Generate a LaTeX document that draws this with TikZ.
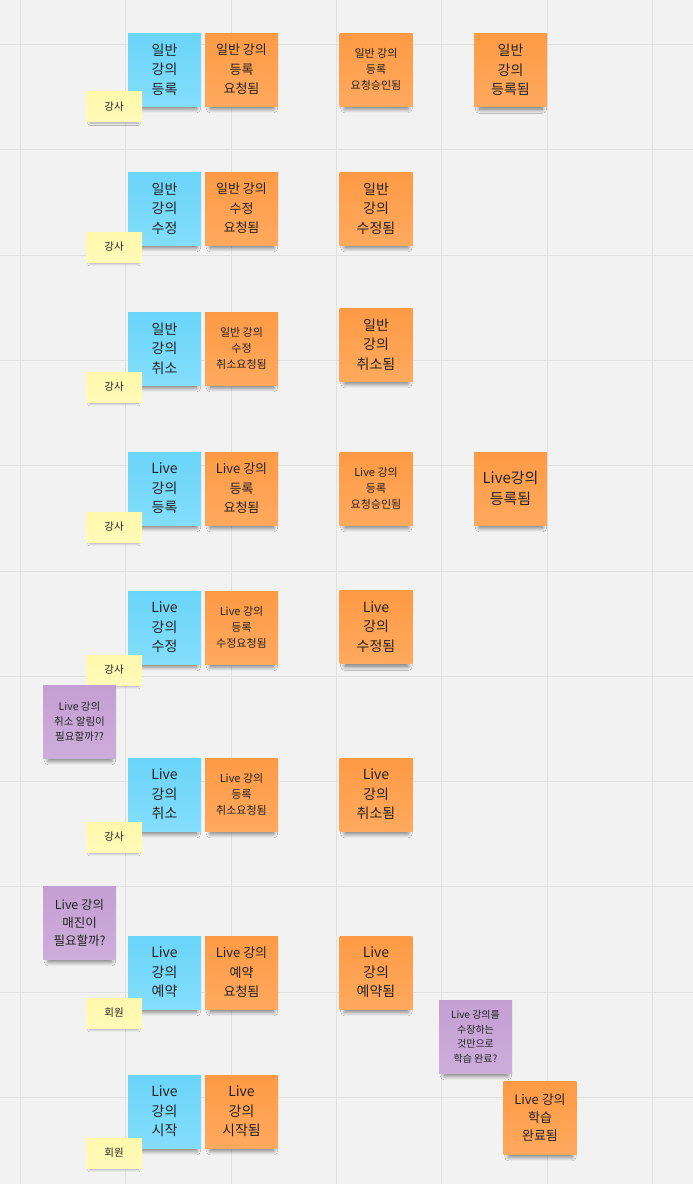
\documentclass[tikz,border=0pt]{standalone}
\usepackage{fontspec}
\setmainfont{Noto Sans CJK KR}
\usetikzlibrary{shadows.blur}
\definecolor{bg}{HTML}{F2F2F2}
\definecolor{gridc}{HTML}{E0E0E0}
\definecolor{txt}{HTML}{222222}
\definecolor{blueT}{HTML}{6AD4F9}
\definecolor{blueB}{HTML}{84DEFB}
\definecolor{orT}{HTML}{FE9A45}
\definecolor{orB}{HTML}{FFA95E}
\definecolor{purT}{HTML}{C49FD3}
\definecolor{purB}{HTML}{CDADDA}
\definecolor{yelT}{HTML}{FFF8AC}
\definecolor{yelB}{HTML}{FFFAB8}
\begin{document}
\begin{tikzpicture}[x=1pt,y=-1pt,
  note/.style={minimum width=73pt,minimum height=73pt,inner sep=0pt,align=center,text=txt,
    blur shadow={shadow xshift=0.5pt,shadow yshift=-9pt,shadow scale=0.86,shadow opacity=55,shadow blur steps=10,shadow blur radius=5pt}},
  cmd/.style={note,top color=blueT,bottom color=blueB},
  evt/.style={note,top color=orT,bottom color=orB},
  que/.style={note,top color=purT,bottom color=purB},
  actor/.style={minimum width=56pt,minimum height=30pt,inner sep=0pt,align=center,text=txt,
    top color=yelT,bottom color=yelB,font=\fontsize{10.5}{12}\selectfont,
    blur shadow={shadow xshift=0pt,shadow yshift=-4.5pt,shadow scale=0.86,shadow opacity=30,shadow blur steps=6,shadow blur radius=2.5pt}},
  big/.style={font=\fontsize{14}{19.5}\selectfont},
  med/.style={font=\fontsize{13}{19.5}\selectfont},
  sml/.style={font=\fontsize{11}{16}\selectfont},
  bigw/.style={font=\fontsize{15}{21.7}\selectfont},
  mid/.style={font=\fontsize{13}{18.3}\selectfont},
  qa/.style={font=\fontsize{10.5}{15}\selectfont},
  qb/.style={font=\fontsize{12.5}{18}\selectfont},
  qc/.style={font=\fontsize{10}{14.5}\selectfont}
]
\fill[bg] (0,0) rectangle (693,1184);
\useasboundingbox (0,0) rectangle (693,1184);
\foreach \gx in {20.5,125.8,231.1,336.4,441.7,547,652.3}
  \draw[gridc,line width=1pt] (\gx,0) -- (\gx,1184);
\foreach \gy in {44.5,149.8,255.1,360.4,465.7,571,676.3,781.6,886.9,992.2,1097.5}
  \draw[gridc,line width=1pt] (0,\gy) -- (693,\gy);

% row 1
\node[cmd,big] (b1) at (164.5,69.5) {일반\\강의\\등록};
\node[evt,med] (o1a) at (241.5,69.5) {일반 강의\\등록\\요청됨};
\node[evt,sml] (o1b) at (376,69.5) {일반 강의\\등록\\요청승인됨};
\node[evt,big] (o1c) at (510.5,70) {일반\\강의\\등록됨};
\node[actor] (y1) at (114,106.5) {강사};

% row 2
\node[cmd,big] (b2) at (164.5,208.5) {일반\\강의\\수정};
\node[evt,med] (o2a) at (241.5,208.5) {일반 강의\\수정\\요청됨};
\node[evt,big] (o2b) at (376,208.5) {일반\\강의\\수정됨};
\node[actor] (y2) at (114,247) {강사};

% row 3
\node[cmd,big] (b3) at (164.5,348.5) {일반\\강의\\취소};
\node[evt,sml] (o3a) at (241.5,348.5) {일반 강의\\수정\\취소요청됨};
\node[evt,big] (o3b) at (376,344.5) {일반\\강의\\취소됨};
\node[actor] (y3) at (114,387) {강사};

% row 4
\node[cmd,big] (b4) at (164.5,488.5) {Live\\강의\\등록};
\node[evt,med] (o4a) at (241.5,488.5) {Live 강의\\등록\\요청됨};
\node[evt,sml] (o4b) at (376,488.5) {Live 강의\\등록\\요청승인됨};
\node[evt,bigw] (o4c) at (510.5,488.5) {Live강의\\등록됨};
\node[actor] (y4) at (114,527) {강사};

% row 5
\node[cmd,big] (b5) at (164.5,627.5) {Live\\강의\\수정};
\node[evt,sml] (o5a) at (241.5,627.5) {Live 강의\\등록\\수정요청됨};
\node[evt,big] (o5b) at (376,627) {Live\\강의\\수정됨};
\node[actor] (y5) at (114,670) {강사};

\node[que,qa] (p1) at (79.5,721.5) {Live 강의\\취소 알림이\\필요할까??};

% row 6
\node[cmd,big] (b6) at (164.5,794.5) {Live\\강의\\취소};
\node[evt,sml] (o6a) at (241.5,794.5) {Live 강의\\등록\\취소요청됨};
\node[evt,big] (o6b) at (376,794.5) {Live\\강의\\취소됨};
\node[actor] (y6) at (114,837) {강사};

\node[que,qb] (p2) at (79.5,922.5) {Live 강의\\매진이\\필요할까?};

% row 7
\node[cmd,big] (b7) at (164.5,972.5) {Live\\강의\\예약};
\node[evt,med] (o7a) at (241.5,972.5) {Live 강의\\예약\\요청됨};
\node[evt,big] (o7b) at (376,972.5) {Live\\강의\\예약됨};
\node[actor] (y7) at (114,1013) {회원};

\node[que,qc] (p3) at (475.5,1036.5) {Live 강의를\\수장하는\\것만으로\\학습 완료?};
\node[evt,mid] (o9) at (540,1117.5) {Live 강의\\학습\\완료됨};

% row 8
\node[cmd,big] (b8) at (164.5,1111.5) {Live\\강의\\시작};
\node[evt,big] (o8a) at (241.5,1111.5) {Live\\강의\\시작됨};
\node[actor] (y8) at (114,1153) {회원};
\end{tikzpicture}
\end{document}
